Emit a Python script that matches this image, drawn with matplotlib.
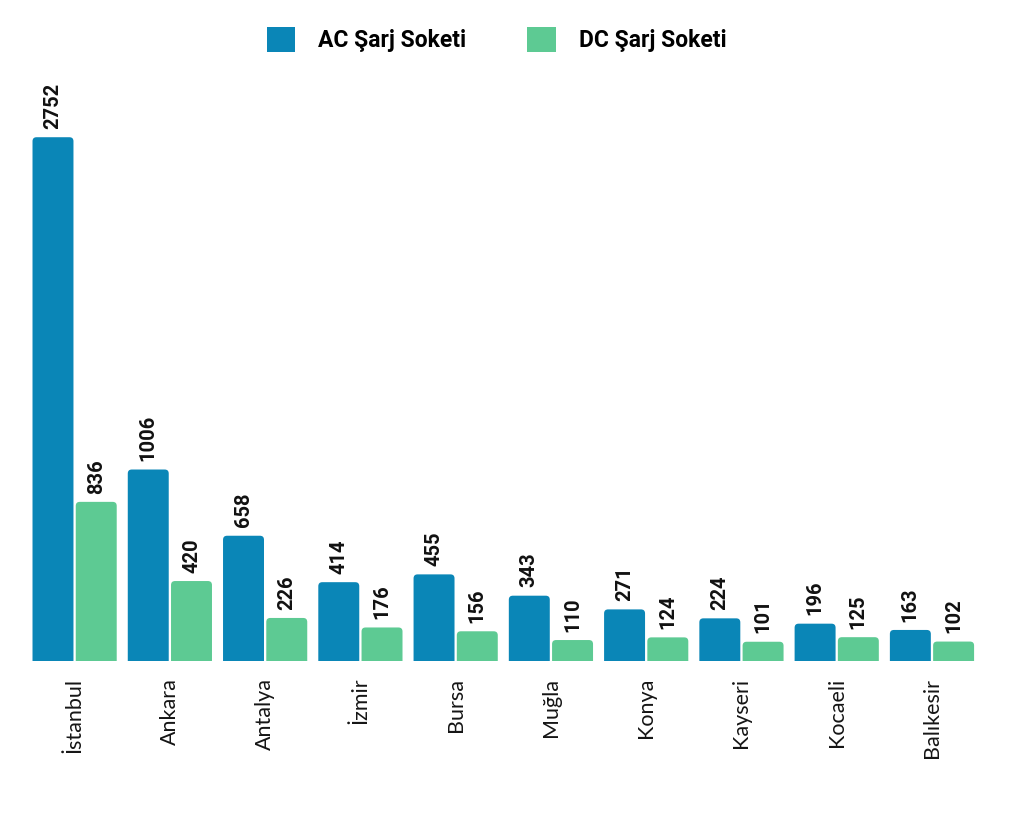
import matplotlib
matplotlib.use("Agg")
import matplotlib.pyplot as plt
from matplotlib.patches import FancyBboxPatch, Patch
import numpy as np

cities = ["İstanbul", "Ankara", "Antalya", "İzmir", "Bursa", "Muğla", "Konya", "Kayseri", "Kocaeli", "Balıkesir"]
ac_values = [2752, 1006, 658, 414, 455, 343, 271, 224, 196, 163]
dc_values = [836, 420, 226, 176, 156, 110, 124, 101, 125, 102]
series_names = ["AC Şarj Soketi", "DC Şarj Soketi"]

AC_COLOR = "#0A86B7"
DC_COLOR = "#5DCA93"

fig = plt.figure(figsize=(10.24, 8.13), dpi=100)
ax = fig.add_axes([0.031, 0.187, 0.921, 0.721])

x = np.arange(len(cities))
w = 0.43
off = 0.227
ymax = 3080
ax.set_xlim(-0.45, len(cities) - 0.55)
ax.set_ylim(0, ymax)

# pixel scales for rounded corners
ax_w_px = 0.921 * 1024
ax_h_px = 0.721 * 813
px_x = (len(cities) - 0.1) / ax_w_px
px_y = ymax / ax_h_px
r = 4 * px_x
aspect = px_y / px_x

bars_ac = ax.bar(x - off, ac_values, w, color=AC_COLOR, edgecolor="none")
bars_dc = ax.bar(x + off, dc_values, w, color=DC_COLOR, edgecolor="none")

for bars, col in ((bars_ac, AC_COLOR), (bars_dc, DC_COLOR)):
    for rect in bars:
        rect.set_visible(False)
        bx, bw, bh = rect.get_x(), rect.get_width(), rect.get_height()
        ext = 6 * px_y
        p = FancyBboxPatch((bx, -ext), bw, bh + ext,
                           boxstyle=f"round,pad=0,rounding_size={r}",
                           mutation_aspect=aspect, facecolor=col, edgecolor="none",
                           clip_on=True)
        ax.add_patch(p)

for bars, vals in ((bars_ac, ac_values), (bars_dc, dc_values)):
    for rect, v in zip(bars, vals):
        ax.annotate(str(v), (rect.get_x() + rect.get_width() / 2, rect.get_height()),
                    xytext=(0, 6), textcoords="offset points", rotation=90,
                    ha="center", va="bottom", fontsize=14.5, fontweight="bold",
                    family="Roboto", color="#111111")

ax.set_xticks(x)
ax.set_xticklabels(cities, rotation=90, fontsize=15.5, family="Lato", color="#151515")
ax.tick_params(axis="x", length=0, pad=12)
ax.set_yticks([])
for s in ax.spines.values():
    s.set_visible(False)

handles = [Patch(facecolor=AC_COLOR, edgecolor="none"), Patch(facecolor=DC_COLOR, edgecolor="none")]
fig.legend(handles=handles, labels=series_names, loc="center", bbox_to_anchor=(0.485, 0.951),
           ncol=2, frameon=False, prop={"family": "Roboto", "weight": "bold", "size": 16.5},
           handlelength=1.25, handleheight=1.25, handletextpad=1.0, columnspacing=2.65)

fig.savefig("out.png", dpi=100, facecolor="white")
